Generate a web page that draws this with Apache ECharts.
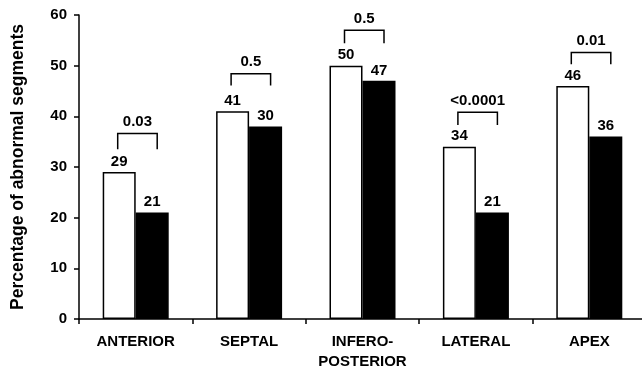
<!DOCTYPE html>
<html>
<head>
<meta charset="utf-8">
<script src="https://cdn.jsdelivr.net/npm/echarts@6/dist/echarts.min.js"></script>
<style>
html,body{margin:0;padding:0;background:#fff;}
#chart{width:642px;height:368px;}
</style>
</head>
<body>
<div id="chart"></div>
<script>
const categories = ['ANTERIOR', 'SEPTAL', 'INFERO-\nPOSTERIOR', 'LATERAL', 'APEX'];
const whiteValues = [29, 41, 50, 34, 46];
const blackValues = [21, 38, 47, 21, 36];
const whiteLabels = ['29', '41', '50', '34', '46'];
const blackLabels = ['21', '30', '47', '21', '36'];
const pLabels = ['0.03', '0.5', '0.5', '<0.0001', '0.01'];
const bracketTop = [36.6, 48.4, 57, 40.8, 52.6];
const bracketBottom = [33.5, 46.1, 54.4, 38.3, 50.3];
const yTicks = [0, 10, 20, 30, 40, 50, 60];
const yTitle = 'Percentage of abnormal segments';

const FONT = '"Liberation Sans", Arial, Helvetica, sans-serif';
const chart = echarts.init(document.getElementById('chart'), null, {renderer: 'canvas'});

const bracketData = categories.map((c, i) => [i, bracketTop[i], bracketBottom[i]]);

chart.setOption({
  animation: false,
  backgroundColor: '#fff',
  grid: {left: 79, right: -4, top: 15, bottom: 49, containLabel: false, outerBoundsMode: 'none'},
  xAxis: {
    type: 'category',
    data: categories,
    boundaryGap: true,
    axisLine: {lineStyle: {color: '#000', width: 1.5}},
    axisTick: {show: true, inside: false, length: 5, lineStyle: {color: '#000', width: 1.5}, alignWithLabel: false},
    axisLabel: {color: '#000', fontFamily: FONT, fontWeight: 'bold', fontSize: 15, margin: 13, lineHeight: 20, interval: 0}
  },
  yAxis: {
    type: 'value',
    min: yTicks[0],
    max: yTicks[yTicks.length - 1],
    interval: 10,
    name: yTitle,
    nameLocation: 'middle',
    nameRotate: 90,
    nameGap: 52,
    nameTextStyle: {color: '#000', fontFamily: FONT, fontWeight: 'bold', fontSize: 17.5},
    axisLine: {show: true, lineStyle: {color: '#000', width: 1.5}},
    axisTick: {show: true, inside: false, length: 5, lineStyle: {color: '#000', width: 1.5}},
    axisLabel: {color: '#000', fontFamily: FONT, fontWeight: 'bold', fontSize: 15, margin: 12},
    splitLine: {show: false}
  },
  series: [
    {
      type: 'bar',
      data: whiteValues,
      barWidth: 33,
      barGap: '0%',
      itemStyle: {color: '#fff', borderColor: '#000', borderWidth: 1.5},
      label: {
        show: true, position: 'top', distance: 3,
        formatter: p => whiteLabels[p.dataIndex],
        color: '#000', fontFamily: FONT, fontWeight: 'bold', fontSize: 15
      }
    },
    {
      type: 'bar',
      data: blackValues,
      barWidth: 33,
      barGap: '0%',
      itemStyle: {color: '#000', borderColor: '#000', borderWidth: 1.5},
      label: {
        show: true, position: 'top', distance: 3,
        formatter: p => blackLabels[p.dataIndex],
        color: '#000', fontFamily: FONT, fontWeight: 'bold', fontSize: 15
      }
    },
    {
      type: 'custom',
      data: bracketData,
      z: 5,
      renderItem: function (params, api) {
        const i = api.value(0);
        const top = api.coord([i, api.value(1)]);
        const bot = api.coord([i, api.value(2)]);
        const cx = top[0];
        const x1 = cx - 18, x2 = cx + 21.5;
        return {
          type: 'group',
          children: [
            {
              type: 'polyline',
              shape: {points: [[x1, bot[1]], [x1, top[1]], [x2, top[1]], [x2, bot[1]]]},
              style: {stroke: '#000', lineWidth: 1.5, fill: null}
            },
            {
              type: 'text',
              style: {
                text: pLabels[params.dataIndex],
                x: (x1 + x2) / 2, y: top[1] - 4,
                align: 'center', verticalAlign: 'bottom',
                font: 'bold 15px ' + FONT, fill: '#000'
              }
            }
          ]
        };
      }
    }
  ]
});
</script>
</body>
</html>
